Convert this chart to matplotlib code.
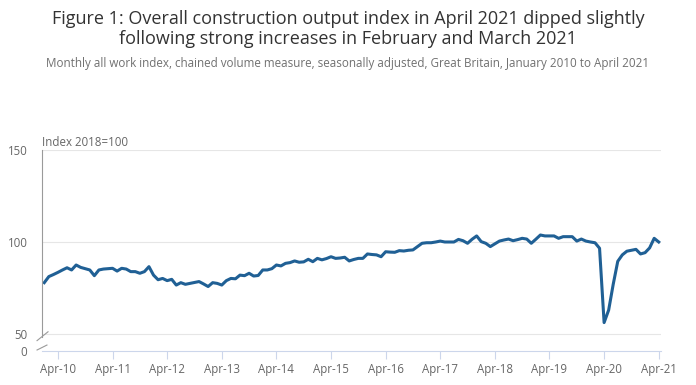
import numpy as np
import matplotlib
matplotlib.use("Agg")
import matplotlib.pyplot as plt
import matplotlib.transforms as mtrans

# monthly all work index, Jan 2010 .. Apr 2021
index_2010 = [77.9, 81.2, 82.3, 83.5, 84.8, 86.0, 84.8, 87.5, 86.2, 85.5, 84.8, 81.7]
index_2011 = [84.8, 85.3, 85.5, 85.7, 84.2, 85.7, 85.3, 83.9, 83.9, 83.0, 83.9, 86.6]
index_2012 = [82.0, 79.5, 80.2, 79.0, 79.7, 76.6, 77.9, 77.0, 77.5, 78.0, 78.5, 77.2]
index_2013 = [75.8, 77.9, 77.5, 76.6, 79.0, 80.2, 80.0, 82.0, 81.7, 83.0, 81.5, 81.8]
index_2014 = [84.8, 84.8, 85.5, 87.5, 87.0, 88.4, 88.8, 89.7, 89.0, 89.2, 90.6, 89.3]
index_2015 = [91.1, 90.3, 91.0, 92.0, 91.1, 91.3, 91.7, 89.7, 90.5, 91.1, 91.1, 93.5]
index_2016 = [93.2, 93.0, 92.0, 94.7, 94.5, 94.4, 95.3, 95.1, 95.5, 95.7, 97.5, 99.3]
index_2017 = [99.6, 99.6, 100.0, 100.5, 100.0, 100.0, 100.0, 101.4, 100.7, 99.3, 101.5, 103.3]
index_2018 = [100.2, 99.3, 97.5, 99.0, 100.5, 101.1, 101.6, 100.7, 101.3, 102.0, 101.6, 99.3]
index_2019 = [101.5, 103.8, 103.3, 103.3, 103.3, 102.0, 102.9, 102.9, 102.9, 100.5, 101.6, 100.5]
index_2020 = [100.0, 99.6, 96.6, 56.2, 63.0, 77.0, 89.5, 93.0, 95.0, 95.5, 96.0, 93.5]
index_2021 = [94.2, 96.8, 102.0, 100.0]

values = np.array(index_2010 + index_2011 + index_2012 + index_2013 + index_2014 + index_2015
                  + index_2016 + index_2017 + index_2018 + index_2019 + index_2020 + index_2021)
months = np.arange(len(values))

tick_labels = ["Apr-10", "Apr-11", "Apr-12", "Apr-13", "Apr-14", "Apr-15",
               "Apr-16", "Apr-17", "Apr-18", "Apr-19", "Apr-20", "Apr-21"]
tick_pos = np.arange(3, len(values), 12)

# broken axis: 0 sits just below 50
zero_pos = 40.76

plt.rcParams['font.family'] = ['Open Sans', 'DejaVu Sans']

fig = plt.figure(figsize=(6.96, 3.85), dpi=100)
ax = fig.add_axes([42/696, 34/385, 619/696, 201/385])

ax.plot(months, values, color='#206095', linewidth=2.2, solid_joinstyle='round')

ax.set_xlim(-0.5, 135.5)
ax.set_ylim(zero_pos, 150)
ax.set_yticks([zero_pos, 50, 100, 150])
ax.set_yticklabels(['0', '50', '100', '150'])
ax.set_xticks(tick_pos)
ax.set_xticklabels(tick_labels)

for g in [50, 100, 150]:
    ax.axhline(g, color='#e6e6e6', linewidth=0.8, zorder=0)

for s in ['top', 'right']:
    ax.spines[s].set_visible(False)
ax.spines['bottom'].set_color('#ccd6eb')
ax.spines['bottom'].set_linewidth(0.8)
ax.spines['left'].set_color('#9a9a9a')
ax.spines['left'].set_linewidth(0.8)
ax.spines['left'].set_bounds(48.5, 150)

ax.tick_params(axis='y', length=0, pad=10.5, labelsize=8.3, labelcolor='#666666')
ax.tick_params(axis='x', length=6, width=0.8, color='#ccd6eb', pad=2.5,
               labelsize=8.3, labelcolor='#666666')

# axis break marks
tr = mtrans.blended_transform_factory(ax.transAxes, ax.transData)
ax.plot([-0.008, 0.0097], [46.4, 51.2], color='#9a9a9a', linewidth=0.8,
        transform=tr, clip_on=False)
ax.plot([-0.008, 0.008], [41.3, 44.0], color='#9a9a9a', linewidth=0.8,
        transform=tr, clip_on=False)

ax.text(0, 1.035, 'Index 2018=100', transform=ax.transAxes, ha='left', va='center',
        fontsize=8.3, color='#666666')

fig.text(0.5, 1 - 29/385,
         'Figure 1: Overall construction output index in April 2021 dipped slightly\n'
         'following strong increases in February and March 2021',
         ha='center', va='center', fontsize=13.0, color='#333333', linespacing=1.17)
fig.text(0.5, 1 - 64/385,
         'Monthly all work index, chained volume measure, seasonally adjusted, '
         'Great Britain, January 2010 to April 2021',
         ha='center', va='center', fontsize=8.4, color='#707070')

fig.savefig('out.png', dpi=100)
